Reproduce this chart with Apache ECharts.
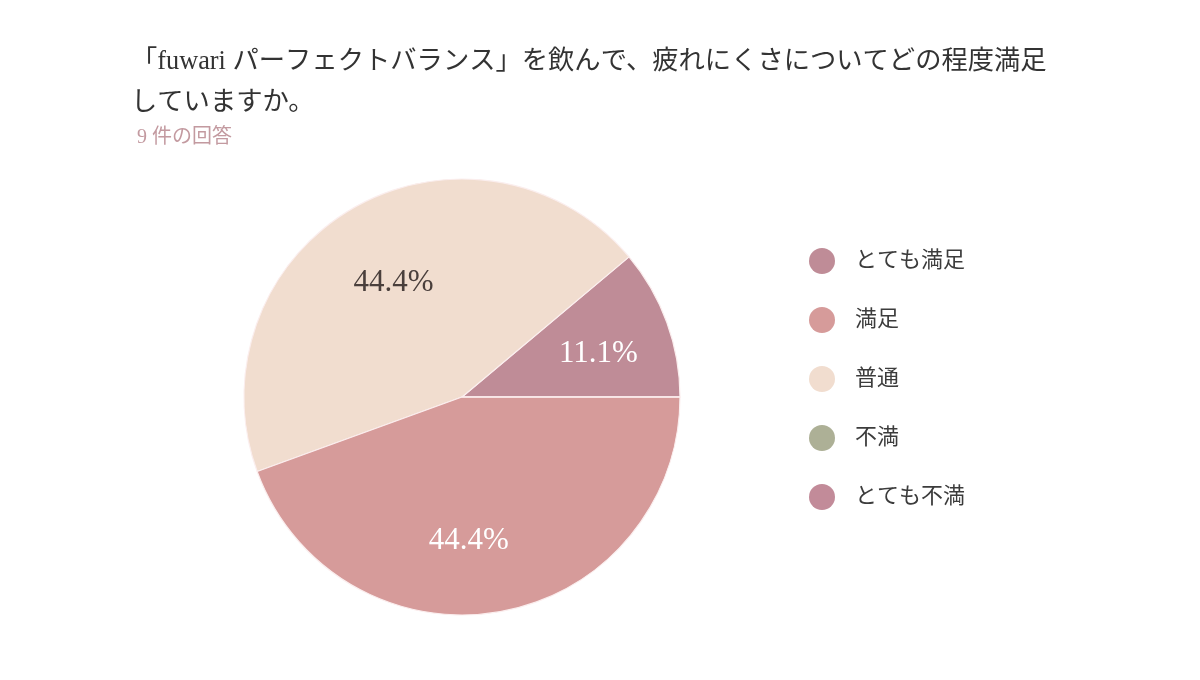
<!DOCTYPE html>
<html><head><meta charset="utf-8">
<script src="https://cdn.jsdelivr.net/npm/echarts@6/dist/echarts.min.js"></script>
<style>html,body{margin:0;padding:0;background:#fff}#c{width:1200px;height:680px}</style>
</head><body><div id="c"></div>
<script>
const titleText = "「fuwari パーフェクトバランス」を飲んで、疲れにくさについてどの程度満足\nしていますか。";
const subtitleText = "9 件の回答";
const legendOrder = ["とても満足", "満足", "普通", "不満", "とても不満"];
const sliceOrder = ["とても満足", "普通", "満足", "不満", "とても不満"];
const counts = { "とても満足": 1, "満足": 4, "普通": 4, "不満": 0, "とても不満": 0 };

const colors = { "とても満足": "#bf8c97", "満足": "#d69b9a", "普通": "#f1ddcf", "不満": "#adb096", "とても不満": "#c28b99" };
const labelColors = { "とても満足": "#ffffff", "満足": "#ffffff", "普通": "#4a3f3c", "不満": "#ffffff", "とても不満": "#ffffff" };
const labelOffsets = { "とても満足": [2, 6], "満足": [-18, 3], "普通": [3, 10], "不満": [0, 0], "とても不満": [0, 0] };

const FONT = "'Liberation Serif', 'Noto Sans CJK JP', serif";
const total = sliceOrder.reduce((s, k) => s + counts[k], 0);
const pieData = sliceOrder.map(k => ({ name: k, value: counts[k], itemStyle: { color: colors[k] } }));
const labelData = sliceOrder.map(k => ({
  name: k, value: counts[k],
  label: { color: labelColors[k], offset: labelOffsets[k] }
}));

const chart = echarts.init(document.getElementById('c'), null, { renderer: 'canvas' });
chart.setOption({
  backgroundColor: '#ffffff',
  animation: false,
  color: legendOrder.map(k => colors[k]),
  title: [
    { text: titleText, left: 131, top: 42, padding: 0,
      textStyle: { fontFamily: FONT, fontSize: 26.3, fontWeight: 'normal', color: '#333333', lineHeight: 41 } },
    { text: subtitleText, left: 137, top: 128, padding: 0,
      textStyle: { fontFamily: FONT, fontSize: 20, fontWeight: 'normal', color: '#c39aa0' } }
  ],
  legend: {
    orient: 'vertical', left: 809, top: 248, padding: 0,
    data: legendOrder, icon: 'circle', itemWidth: 26, itemHeight: 26, itemGap: 33,
    selectedMode: false,
    itemStyle: { borderWidth: 0 },
    textStyle: { fontFamily: FONT, fontSize: 22, color: '#3c3c3c', padding: [0, 0, 0, 15] }
  },
  series: [
    {
      type: 'pie', center: [462, 397], radius: [0, 218],
      startAngle: 0, clockwise: false, minAngle: 0,
      label: { show: false }, labelLine: { show: false },
      itemStyle: { borderColor: '#fbeeee', borderWidth: 1.2 },
      emphasis: { disabled: true },
      data: pieData
    },
    {
      type: 'pie', center: [462, 397], radius: [62, 218],
      startAngle: 0, clockwise: false, silent: true,
      legendHoverLink: false,
      itemStyle: { color: 'rgba(0,0,0,0)', borderWidth: 0 },
      label: {
        show: true, position: 'inside', fontFamily: FONT, fontSize: 31,
        formatter: p => p.value > 0 ? (p.value / total * 100).toFixed(1) + '%' : ''
      },
      labelLine: { show: false },
      emphasis: { disabled: true },
      data: labelData
    }
  ]
});
</script></body></html>
